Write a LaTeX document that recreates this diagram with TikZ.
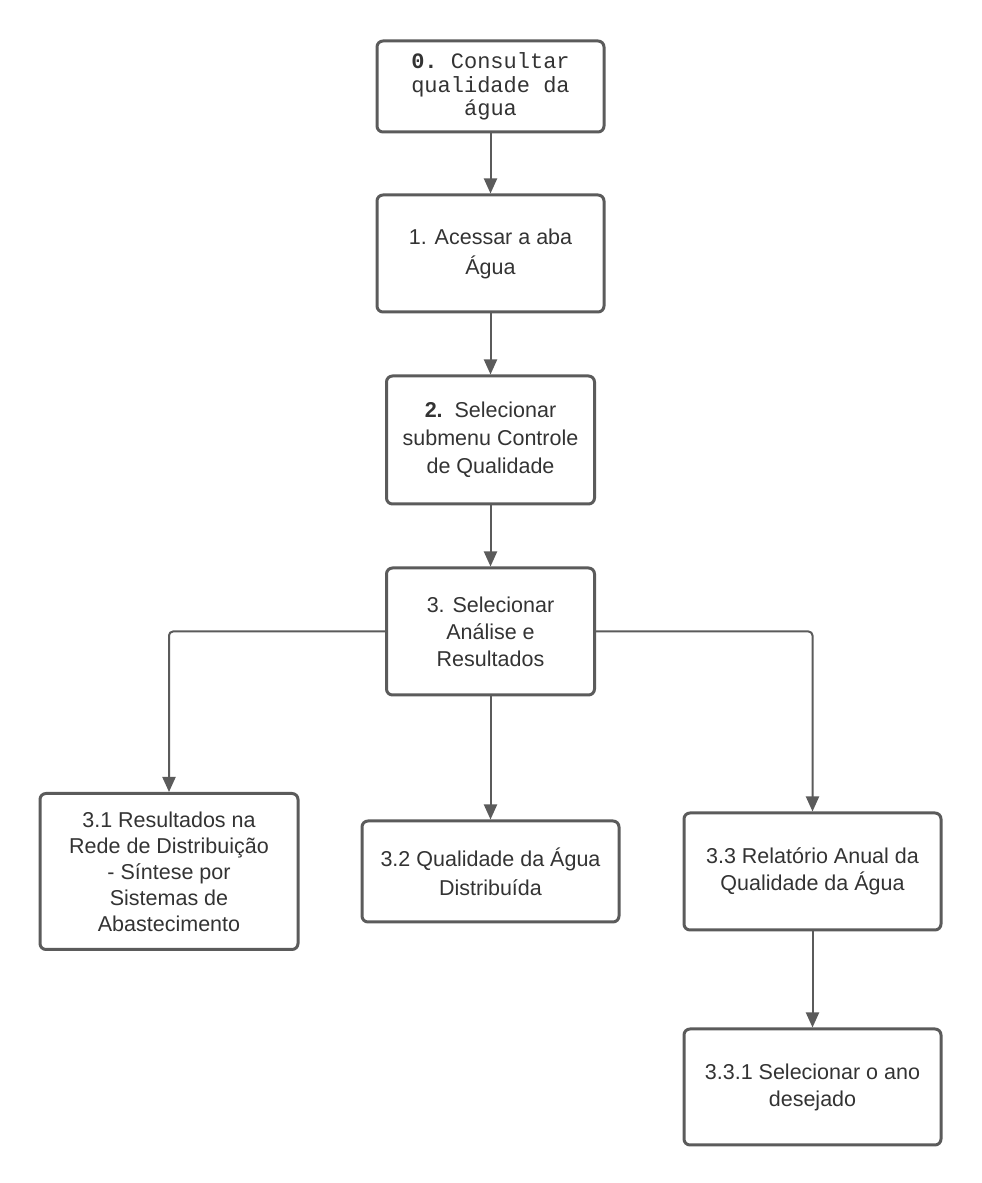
\documentclass[tikz,border=0pt]{standalone}
\usepackage{fontspec}
\setmainfont{Liberation Sans}
\setmonofont{Liberation Mono}
\usepackage{xcolor}
\usetikzlibrary{arrows.meta}
\usetikzlibrary{positioning}
\definecolor{linegray}{HTML}{5B5B5B}
\definecolor{textgray}{HTML}{333333}

\begin{document}
\begin{tikzpicture}[
				node distance=60pt,
				arrow/.style={line width=2pt, draw=linegray, -{Triangle[length=15pt, width=13pt]}},
				block/.style={draw=linegray, line width=3pt, rounded corners=6pt, align=center, text=textgray, font=\fontsize{21.5}{27}\selectfont},
			]
				\useasboundingbox (0,0) rectangle (982pt,1183pt);
				\node[block, minimum width=227pt, minimum height=91pt, font=\ttfamily\fontsize{22}{23.5}\selectfont] (consultar) at (490.5pt,1096.5pt) {\textbf{0.} Consultar\\qualidade da\\água};
				\node[block, minimum width=227pt, minimum height=117pt, below=60pt of consultar, font=\fontsize{21.5}{30}\selectfont] (acessar) {1. Acessar a aba\\Água};
				\node[block, minimum width=208pt, minimum height=128pt, below=61pt of acessar, font=\fontsize{21.5}{28}\selectfont] (submenu) {\textbf{2.}\ \ Selecionar\\submenu Controle\\de Qualidade};
				\node[block, minimum width=208pt, minimum height=127pt, below=61pt of submenu] (analise) {3. Selecionar\\Análise e\\Resultados};
				\node[block, minimum width=257pt, minimum height=101pt, below=123pt of analise, font=\fontsize{21.5}{29}\selectfont] (qualidade) {3.2 Qualidade da Água\\Distribuída};
				\node[block, minimum width=258pt, minimum height=156pt, left=61pt of qualidade, font=\fontsize{21.5}{26}\selectfont] (resultados) {3.1 Resultados na\\Rede de Distribuição\\- Síntese por\\Sistemas de\\Abastecimento};
				\node[block, minimum width=257pt, minimum height=117pt, right=62pt of qualidade] (relatorio) {3.3 Relatório Anual da\\Qualidade da Água};
				\node[block, minimum width=257pt, minimum height=116pt, below=96pt of relatorio] (ano) {3.3.1 Selecionar o ano\\desejado};

				\draw[arrow] (consultar) -- (acessar);
				\draw[arrow] (acessar) -- (submenu);
				\draw[arrow] (submenu) -- (analise);
				\draw[arrow] (analise) -- (qualidade);
				\draw[arrow, rounded corners=4pt] (analise.west) -| (resultados);
				\draw[arrow, rounded corners=4pt] (analise.east) -| (relatorio);
				\draw[arrow] (relatorio) -- (ano);
			\end{tikzpicture}
\end{document}
